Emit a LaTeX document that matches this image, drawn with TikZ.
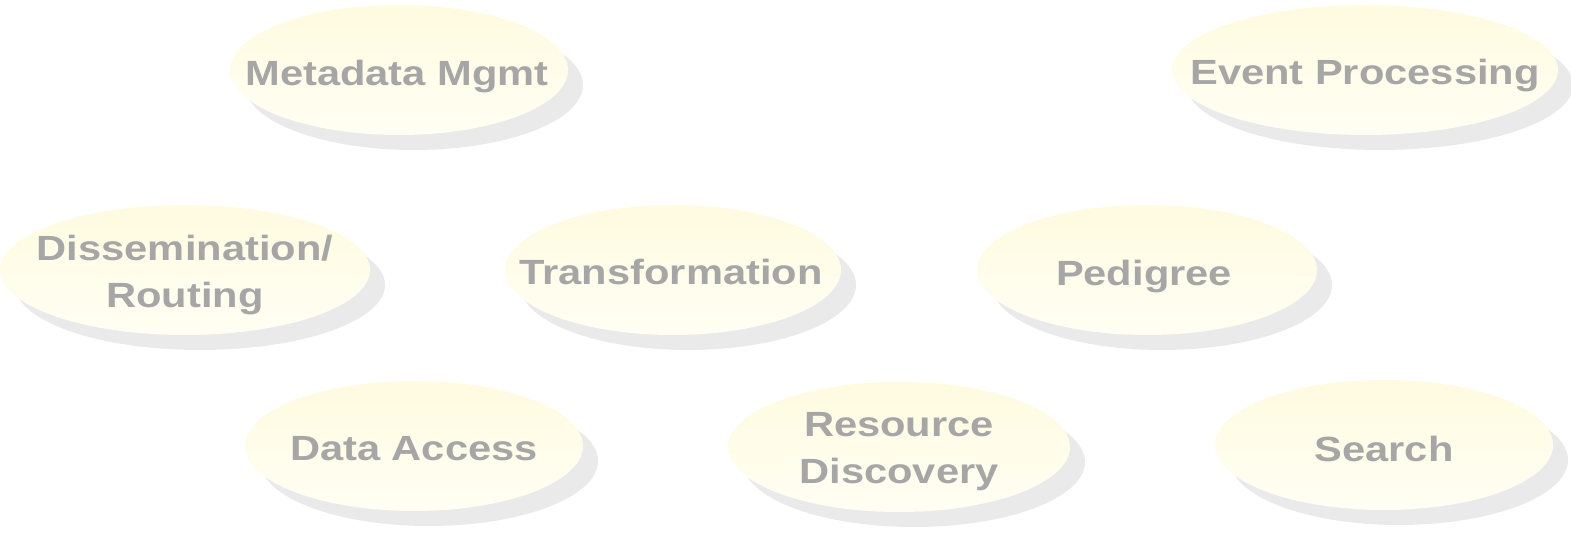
\documentclass[tikz,border=0pt]{standalone}
\usepackage{fontspec}
\newfontfamily\ovalfont{Liberation Sans}[FakeStretch=1.19]
\usetikzlibrary{shapes.geometric, shadows}
\definecolor{ovaltop}{RGB}{255,251,224}
\definecolor{ovalbottom}{RGB}{255,254,243}
\definecolor{ovalshadow}{RGB}{234,234,234}
\definecolor{ovaltext}{RGB}{166,166,166}

\begin{document}
\begin{tikzpicture}[
    x=0.5pt, y=-0.5pt,
    oval/.style={ellipse, top color=ovaltop, bottom color=ovalbottom, minimum height=65pt, inner sep=0pt,
      drop shadow={shadow xshift=7.5pt, shadow yshift=-7.5pt, fill=ovalshadow, opacity=1}},
    ovallabel/.style={inner sep=0pt, align=center, text=ovaltext,
      font=\ovalfont\bfseries\fontsize{17.5}{23.5}\selectfont}
]
    \useasboundingbox (0,0) rectangle (1571,533);

    % Top row
    \node[oval, minimum width=169pt] (metadata) at (399,70) {};
    \node[oval, minimum width=193pt] (events) at (1365,70) {};
    \node[ovallabel] (metadata-text) at (397,77) {Metadata Mgmt};
    \node[ovallabel] (events-text) at (1365,76) {Event Processing};

    % Middle row
    \node[oval, minimum width=185pt] (dissem) at (185,270) {};
    \node[oval, minimum width=168pt] (transform) at (673,270) {};
    \node[oval, minimum width=170pt] (pedigree) at (1147,270) {};
    \node[ovallabel] (dissem-text) at (185,275) {Dissemination/\\Routing};
    \node[ovallabel] (transform-text) at (671,272) {Transformation};
    \node[ovallabel] (pedigree-text) at (1144,277) {Pedigree};

    % Bottom row
    \node[oval, minimum width=169pt] (access) at (414,446) {};
    \node[oval, minimum width=171pt] (discovery) at (899,447) {};
    \node[oval, minimum width=169pt] (search) at (1384,445) {};
    \node[ovallabel] (access-text) at (414,449) {Data Access};
    \node[ovallabel] (discovery-text) at (899,452) {Resource\\Discovery};
    \node[ovallabel] (search-text) at (1384,449) {Search};
\end{tikzpicture}
\end{document}
